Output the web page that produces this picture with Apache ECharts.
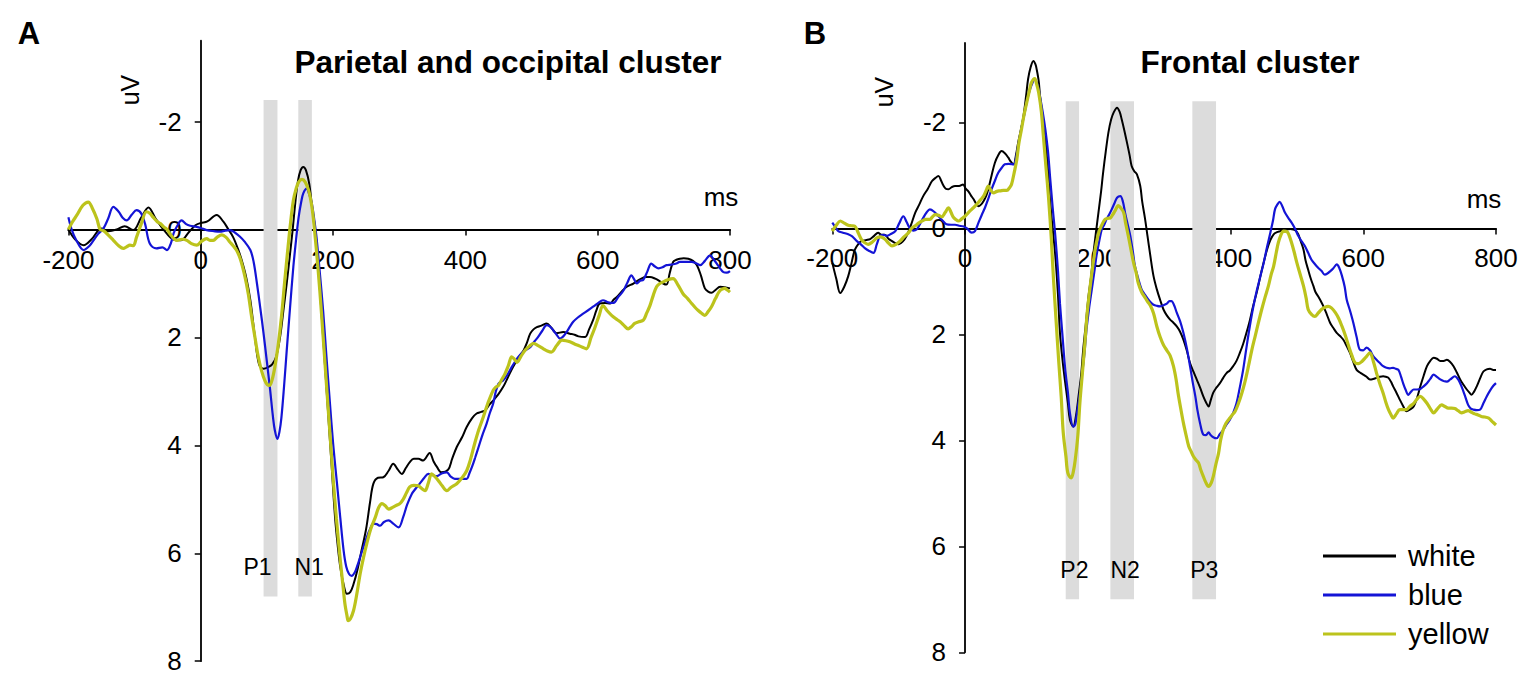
<!DOCTYPE html>
<html>
<head>
<meta charset="utf-8">
<script src="https://cdn.jsdelivr.net/npm/echarts@6.0.0/dist/echarts.min.js"></script>
<style>
html,body{margin:0;padding:0;background:#fff;}
#chart{width:1533px;height:683px;}
</style>
</head>
<body>
<div id="chart"></div>
<script>
// ---------- data ----------
const xTicks = [-200, 0, 200, 400, 600, 800];
const yTicks = [-2, 0, 2, 4, 6, 8];
const seriesNames = ['white', 'blue', 'yellow'];
const panelTitles = ['Parietal and occipital cluster', 'Frontal cluster'];
const panelLetters = ['A', 'B'];

// component windows (ms) and their labels
const A_bandNames = ['P1', 'N1'];
const A_bands = [[95, 116], [147.5, 168]];
const A_bandRange = [-2.4, 6.8];
const B_bandNames = ['P2', 'N2', 'P3'];
const B_bands = [[151.7, 171.8], [219, 254.6], [342.5, 378.2]];
const B_bandRange = [-2.4, 7.0];

// Panel A: parietal and occipital cluster [ms, uV]
const A_white = [[-200,0.0],[-190,0.18],[-177,0.29],[-165,0.18],[-150,-0.02],[-140,0.03],[-127,0.0],[-115,-0.06],[-102,0.01],[-90,-0.22],[-79,-0.41],[-68,-0.2],[-55,0.02],[-42,0.18],[-30,0.2],[-18,0.05],[-8,-0.08],[0,-0.12],[10,-0.15],[24,-0.27],[34,-0.15],[42,0.0],[49,0.14],[56,0.35],[62,0.57],[69,0.9],[75,1.31],[82,2.0],[88,2.49],[95,2.58],[102,2.55],[108,2.5],[114,2.36],[120,1.99],[125,1.5],[130,1.0],[135,0.45],[139,0.0],[143,-0.5],[147,-0.9],[151,-1.1],[155,-1.16],[159,-1.1],[164,-0.85],[168,-0.45],[173,0.0],[178,0.75],[183,1.62],[188,2.55],[193,3.48],[198,4.4],[203,5.33],[207,5.85],[211,6.26],[216,6.58],[221,6.75],[226,6.72],[231,6.57],[237,6.3],[243,5.95],[250,5.55],[256,5.05],[261,4.71],[268,4.6],[276,4.59],[284,4.47],[291,4.34],[298,4.45],[304,4.53],[310,4.42],[316,4.31],[322,4.25],[329,4.25],[336,4.28],[346,4.14],[352,4.3],[357,4.4],[364,4.5],[374,4.45],[380,4.25],[387,4.03],[395,3.85],[402,3.66],[410,3.5],[417,3.41],[424,3.38],[430,3.35],[436,3.25],[442,3.17],[450,3.05],[457,2.92],[462,2.8],[467,2.67],[472,2.55],[478,2.42],[483,2.33],[488,2.24],[493,2.1],[498,1.93],[503,1.85],[508,1.81],[515,1.78],[523,1.74],[530,1.82],[538,1.92],[548,1.9],[558,1.93],[565,1.95],[571,1.98],[581,1.99],[587,1.85],[593,1.68],[598,1.5],[603,1.37],[611,1.36],[619,1.37],[624,1.3],[629,1.25],[636,1.15],[644,1.06],[654,1.0],[660,0.95],[666,0.91],[672,0.88],[679,0.88],[687,0.91],[693,0.95],[699,1.0],[704,1.02],[709,0.8],[714,0.6],[719,0.56],[724,0.54],[730,0.53],[737,0.54],[744,0.58],[750,0.66],[756,0.85],[762,1.09],[767,1.15],[772,1.17],[778,1.12],[785,1.06],[792,1.07],[800,1.09]];
const A_blue = [[-200,-0.23],[-195,0.0],[-188,0.2],[-177,0.38],[-168,0.3],[-162,0.2],[-155,0.08],[-147,-0.02],[-140,-0.2],[-132,-0.42],[-124,-0.33],[-118,-0.22],[-112,-0.17],[-104,-0.28],[-97,-0.36],[-90,-0.3],[-84,-0.1],[-77,0.26],[-67,0.35],[-58,0.33],[-51,0.38],[-45,0.25],[-41,0.07],[-35,-0.08],[-29,-0.17],[-22,-0.1],[-16,-0.07],[-6,-0.05],[0,-0.03],[9,0.01],[20,0.03],[29,0.04],[37,0.02],[44,0.01],[52,0.06],[59,0.13],[66,0.22],[75,0.38],[80,0.6],[85,1.0],[90,1.45],[95,1.93],[100,2.45],[105,2.98],[109,3.45],[112,3.72],[116,3.88],[119,3.75],[122,3.48],[126,2.9],[130,2.24],[135,1.45],[140,0.69],[144,0.2],[148,-0.23],[152,-0.52],[155,-0.67],[160,-0.76],[164,-0.65],[168,-0.48],[172,-0.15],[175,0.14],[180,0.8],[185,1.5],[190,2.35],[195,3.17],[200,3.95],[206,4.71],[211,5.35],[216,5.95],[220,6.25],[224,6.38],[228,6.42],[233,6.35],[237,6.22],[241,6.07],[246,5.88],[251,5.7],[256,5.55],[261,5.45],[266,5.46],[271,5.49],[277,5.42],[284,5.39],[291,5.45],[299,5.52],[306,5.33],[312,5.1],[319,4.9],[325,4.8],[331,4.71],[338,4.6],[344,4.53],[350,4.55],[357,4.57],[364,4.52],[372,4.5],[378,4.58],[384,4.62],[393,4.62],[402,4.62],[406,4.52],[410,4.4],[415,4.22],[420,4.03],[426,3.8],[432,3.6],[437,3.4],[442,3.23],[446,3.0],[450,2.86],[454,2.82],[457,2.8],[463,2.7],[470,2.55],[475,2.45],[480,2.36],[489,2.25],[498,2.18],[504,2.08],[510,1.99],[516,1.88],[523,1.77],[528,1.8],[533,1.87],[538,1.95],[543,2.02],[548,1.98],[553,1.9],[558,1.8],[563,1.71],[570,1.63],[578,1.56],[585,1.5],[593,1.43],[600,1.37],[608,1.31],[616,1.35],[624,1.36],[631,1.25],[639,1.13],[645,0.98],[651,0.85],[655,0.92],[659,1.0],[664,0.95],[669,0.93],[675,0.78],[681,0.63],[686,0.68],[692,0.72],[698,0.7],[704,0.66],[711,0.65],[719,0.63],[724,0.6],[729,0.6],[735,0.6],[742,0.6],[748,0.62],[755,0.66],[762,0.58],[770,0.48],[775,0.55],[780,0.63],[785,0.72],[790,0.79],[795,0.8],[800,0.77]];
const A_yellow = [[-200,0.0],[-194,-0.14],[-187,-0.27],[-178,-0.45],[-170,-0.51],[-164,-0.4],[-157,-0.2],[-152,0.0],[-147,0.02],[-140,0.1],[-132,0.2],[-124,0.3],[-117,0.35],[-112,0.32],[-107,0.29],[-102,0.3],[-97,0.14],[-90,-0.1],[-82,-0.33],[-77,-0.3],[-72,-0.23],[-66,-0.15],[-61,-0.11],[-56,-0.05],[-51,0.0],[-44,0.12],[-36,0.2],[-28,0.18],[-21,0.2],[-14,0.26],[-6,0.29],[1,0.22],[9,0.17],[14,0.2],[19,0.2],[25,0.14],[32,0.1],[38,0.14],[44,0.23],[49,0.3],[54,0.38],[60,0.55],[67,0.88],[72,1.2],[77,1.62],[82,2.0],[87,2.36],[92,2.62],[97,2.8],[101,2.88],[104,2.89],[108,2.78],[112,2.55],[117,2.15],[122,1.62],[127,0.95],[132,0.32],[136,-0.15],[140,-0.54],[144,-0.75],[148,-0.88],[153,-0.93],[158,-0.88],[163,-0.73],[167,-0.5],[170,-0.23],[175,0.4],[180,1.13],[185,1.98],[190,2.86],[195,3.72],[200,4.59],[205,5.35],[211,6.13],[215,6.6],[218,6.94],[221,7.15],[223,7.25],[226,7.22],[231,7.06],[236,6.75],[241,6.38],[246,6.08],[251,5.82],[257,5.55],[264,5.33],[269,5.15],[274,5.08],[279,5.12],[284,5.18],[290,5.15],[296,5.11],[301,5.08],[306,5.0],[311,4.88],[316,4.77],[322,4.74],[329,4.75],[334,4.8],[339,4.84],[344,4.7],[349,4.53],[354,4.58],[359,4.65],[365,4.75],[372,4.84],[378,4.78],[387,4.71],[395,4.6],[402,4.47],[408,4.25],[414,3.97],[420,3.72],[427,3.48],[434,3.22],[442,2.98],[446,2.92],[450,2.89],[455,2.78],[460,2.67],[465,2.52],[470,2.36],[474,2.4],[478,2.46],[484,2.35],[490,2.24],[496,2.17],[503,2.11],[510,2.15],[518,2.21],[524,2.25],[530,2.27],[538,2.15],[546,2.05],[552,2.06],[558,2.08],[565,2.12],[571,2.15],[577,2.18],[583,2.21],[590,2.0],[596,1.81],[602,1.6],[608,1.41],[614,1.5],[621,1.59],[627,1.65],[634,1.71],[640,1.78],[646,1.84],[651,1.8],[656,1.74],[662,1.71],[669,1.68],[674,1.55],[679,1.41],[684,1.22],[689,1.06],[694,1.0],[699,0.97],[706,0.93],[714,0.91],[721,1.02],[729,1.19],[736,1.28],[742,1.37],[747,1.44],[752,1.5],[757,1.55],[762,1.59],[767,1.52],[772,1.43],[778,1.28],[785,1.13],[792,1.09],[796,1.12],[800,1.16]];

// Panel B: frontal cluster [ms, uV]
const B_white = [[-200,0.65],[-194,0.95],[-188,1.22],[-182,1.1],[-176,0.9],[-171,0.65],[-166,0.4],[-160,0.28],[-156,0.24],[-149,0.22],[-143,0.2],[-137,0.14],[-131,0.08],[-126,0.12],[-121,0.12],[-115,0.2],[-110,0.24],[-105,0.28],[-100,0.3],[-94,0.25],[-88,0.14],[-81,-0.08],[-75,-0.3],[-69,-0.45],[-63,-0.61],[-56,-0.75],[-50,-0.89],[-45,-0.95],[-40,-0.99],[-36,-0.9],[-33,-0.82],[-29,-0.75],[-25,-0.74],[-20,-0.78],[-15,-0.8],[-9,-0.8],[-3,-0.83],[1,-0.75],[5,-0.7],[9,-0.62],[13,-0.55],[17,-0.46],[20,-0.42],[24,-0.45],[28,-0.52],[32,-0.62],[35,-0.74],[40,-1.0],[45,-1.24],[50,-1.38],[55,-1.46],[60,-1.42],[65,-1.34],[69,-1.26],[73,-1.21],[77,-1.4],[80,-1.62],[84,-1.85],[88,-2.12],[92,-2.5],[95,-2.82],[99,-3.05],[103,-3.16],[106,-3.1],[108,-3.0],[111,-2.78],[113,-2.5],[117,-2.1],[121,-1.68],[125,-1.1],[128,-0.55],[132,0.0],[136,0.52],[140,1.25],[143,1.97],[147,2.5],[151,2.92],[155,3.3],[158,3.61],[163,3.74],[167,3.55],[171,3.17],[175,2.75],[178,2.29],[182,1.8],[186,1.28],[190,0.9],[193,0.52],[197,0.1],[201,-0.3],[205,-0.7],[208,-1.05],[212,-1.45],[216,-1.81],[220,-2.05],[224,-2.19],[229,-2.28],[233,-2.2],[236,-2.06],[240,-1.85],[244,-1.62],[248,-1.38],[251,-1.18],[255,-1.08],[259,-1.02],[264,-0.8],[267,-0.5],[271,-0.2],[275,0.15],[279,0.5],[284,0.9],[289,1.15],[294,1.35],[299,1.53],[304,1.64],[309,1.72],[314,1.78],[319,1.85],[324,1.95],[329,2.1],[334,2.3],[339,2.54],[344,2.7],[349,2.85],[354,3.0],[359,3.17],[363,3.28],[367,3.36],[370,3.25],[374,3.1],[379,3.0],[384,2.92],[389,2.82],[394,2.73],[399,2.68],[404,2.6],[409,2.5],[414,2.35],[419,2.18],[424,1.97],[429,1.74],[434,1.47],[440,1.18],[445,0.9],[450,0.64],[455,0.4],[460,0.22],[465,0.11],[470,0.07],[475,0.05],[480,0.03],[485,0.02],[490,0.01],[495,0.02],[499,0.05],[502,0.11],[506,0.25],[510,0.4],[513,0.6],[517,0.78],[521,0.95],[525,1.09],[528,1.2],[532,1.28],[536,1.37],[540,1.47],[545,1.62],[550,1.78],[555,1.88],[560,1.97],[565,2.03],[570,2.1],[575,2.22],[580,2.35],[585,2.52],[590,2.67],[595,2.72],[600,2.76],[605,2.8],[610,2.85],[615,2.84],[620,2.82],[625,2.8],[630,2.79],[634,2.8],[638,2.82],[642,2.9],[645,2.98],[650,3.1],[655,3.23],[660,3.35],[665,3.45],[670,3.42],[676,3.36],[681,3.2],[686,2.98],[691,2.78],[696,2.6],[701,2.5],[706,2.44],[711,2.46],[716,2.5],[721,2.5],[726,2.48],[731,2.52],[736,2.6],[741,2.72],[746,2.85],[751,2.95],[756,3.04],[760,3.1],[763,3.14],[767,3.08],[771,2.98],[776,2.83],[781,2.7],[786,2.66],[791,2.65],[796,2.67],[800,2.67]];
const B_blue = [[-200,-0.11],[-195,-0.02],[-191,0.05],[-184,0.08],[-176,0.11],[-170,0.15],[-163,0.24],[-157,0.3],[-151,0.37],[-145,0.42],[-138,0.46],[-133,0.3],[-128,0.14],[-123,0.12],[-118,0.14],[-111,0.1],[-105,0.05],[-99,-0.1],[-93,-0.23],[-88,-0.12],[-83,0.0],[-78,0.04],[-73,0.02],[-68,-0.08],[-63,-0.2],[-58,-0.3],[-53,-0.36],[-47,-0.32],[-40,-0.23],[-34,-0.15],[-28,-0.08],[-21,-0.07],[-15,-0.07],[-9,-0.05],[-3,-0.04],[3,0.0],[10,0.08],[15,0.05],[20,-0.1],[25,-0.25],[30,-0.39],[35,-0.56],[40,-0.74],[45,-0.9],[50,-1.05],[55,-1.14],[60,-1.21],[66,-1.22],[73,-1.21],[77,-1.35],[80,-1.56],[85,-1.9],[90,-2.19],[94,-2.45],[98,-2.63],[102,-2.76],[105,-2.82],[109,-2.72],[113,-2.48],[117,-2.2],[121,-1.87],[125,-1.45],[128,-0.99],[132,-0.4],[136,0.14],[140,0.8],[143,1.41],[147,2.05],[151,2.67],[155,3.1],[158,3.48],[163,3.74],[166,3.7],[168,3.55],[172,3.2],[176,2.79],[180,2.35],[183,1.91],[187,1.5],[191,1.15],[195,0.8],[198,0.52],[202,0.25],[206,0.02],[210,-0.08],[213,-0.17],[217,-0.26],[221,-0.36],[225,-0.47],[229,-0.58],[234,-0.61],[238,-0.5],[241,-0.3],[245,-0.08],[249,0.14],[253,0.45],[256,0.71],[261,0.95],[266,1.15],[271,1.25],[276,1.34],[280,1.4],[284,1.44],[289,1.46],[294,1.47],[299,1.45],[304,1.42],[308,1.37],[311,1.37],[315,1.45],[319,1.59],[324,1.75],[329,1.97],[334,2.25],[339,2.6],[343,2.9],[347,3.17],[350,3.42],[354,3.67],[359,3.89],[363,3.9],[367,3.85],[370,3.9],[374,3.94],[379,3.96],[384,3.88],[389,3.8],[394,3.7],[399,3.61],[404,3.48],[409,3.3],[414,3.0],[419,2.67],[424,2.25],[429,1.85],[434,1.5],[440,1.15],[445,0.9],[450,0.65],[455,0.35],[460,0.08],[464,-0.15],[467,-0.36],[471,-0.46],[474,-0.5],[478,-0.42],[482,-0.3],[487,-0.2],[492,-0.11],[497,0.0],[502,0.14],[507,0.24],[512,0.33],[517,0.46],[522,0.59],[527,0.67],[532,0.74],[537,0.8],[542,0.87],[546,0.85],[550,0.81],[555,0.75],[560,0.68],[564,0.75],[568,0.9],[572,1.1],[575,1.34],[580,1.55],[585,1.78],[590,2.05],[595,2.29],[600,2.3],[605,2.25],[610,2.3],[615,2.41],[620,2.48],[625,2.54],[630,2.6],[635,2.63],[640,2.64],[645,2.63],[649,2.65],[653,2.67],[657,2.8],[660,2.92],[664,3.05],[668,3.14],[672,3.08],[676,3.04],[681,3.04],[686,3.03],[691,2.98],[696,2.92],[701,2.84],[706,2.76],[711,2.8],[716,2.85],[721,2.88],[726,2.89],[731,2.85],[738,2.79],[743,2.85],[748,2.98],[753,3.15],[758,3.33],[762,3.4],[766,3.42],[771,3.43],[776,3.42],[781,3.3],[786,3.17],[791,3.06],[796,2.97],[800,2.92]];
const B_yellow = [[-200,0.05],[-194,-0.06],[-188,-0.14],[-182,-0.1],[-176,-0.06],[-171,-0.05],[-166,-0.04],[-161,0.08],[-156,0.21],[-151,0.27],[-146,0.3],[-140,0.26],[-133,0.18],[-127,0.16],[-121,0.2],[-115,0.28],[-110,0.33],[-104,0.3],[-98,0.24],[-92,0.16],[-85,0.08],[-80,-0.01],[-75,-0.05],[-70,-0.1],[-65,-0.14],[-59,-0.17],[-53,-0.17],[-49,-0.22],[-45,-0.26],[-40,-0.25],[-35,-0.22],[-30,-0.3],[-25,-0.39],[-21,-0.3],[-18,-0.22],[-14,-0.17],[-10,-0.14],[-5,-0.18],[0,-0.23],[5,-0.3],[10,-0.36],[15,-0.42],[20,-0.49],[24,-0.55],[28,-0.61],[32,-0.72],[35,-0.8],[39,-0.72],[43,-0.67],[48,-0.7],[53,-0.71],[58,-0.72],[63,-0.72],[67,-0.77],[70,-0.83],[74,-1.05],[78,-1.3],[81,-1.6],[85,-1.87],[89,-2.15],[93,-2.38],[97,-2.6],[100,-2.75],[105,-2.83],[108,-2.72],[111,-2.56],[115,-2.2],[118,-1.75],[122,-1.15],[126,-0.55],[130,0.2],[133,0.9],[137,1.7],[141,2.48],[145,3.2],[148,3.86],[152,4.3],[155,4.62],[160,4.71],[163,4.6],[166,4.37],[170,3.9],[173,3.3],[177,2.7],[181,2.1],[184,1.6],[188,1.15],[192,0.75],[196,0.4],[200,0.15],[203,0.02],[207,-0.09],[211,-0.17],[215,-0.19],[219,-0.2],[222,-0.25],[226,-0.33],[231,-0.43],[235,-0.38],[239,-0.3],[242,-0.1],[246,0.14],[250,0.4],[254,0.65],[258,0.85],[261,1.03],[266,1.2],[271,1.3],[275,1.38],[279,1.45],[284,1.6],[289,1.85],[294,2.05],[299,2.2],[304,2.3],[309,2.4],[314,2.6],[318,2.85],[321,3.11],[325,3.4],[329,3.67],[333,3.9],[337,4.11],[341,4.22],[344,4.3],[348,4.37],[352,4.43],[355,4.55],[359,4.68],[363,4.8],[367,4.87],[371,4.8],[374,4.68],[378,4.45],[382,4.24],[385,4.0],[389,3.8],[393,3.68],[397,3.61],[402,3.53],[407,3.45],[412,3.3],[417,3.11],[422,2.88],[427,2.6],[432,2.3],[437,2.04],[442,1.78],[447,1.53],[452,1.3],[457,1.09],[461,0.88],[465,0.71],[469,0.45],[472,0.27],[476,0.12],[480,0.05],[485,0.06],[488,0.12],[492,0.27],[496,0.45],[500,0.65],[505,0.87],[510,1.09],[514,1.32],[517,1.53],[522,1.62],[527,1.66],[532,1.6],[537,1.53],[542,1.49],[547,1.47],[552,1.5],[558,1.59],[563,1.7],[568,1.85],[573,2.02],[578,2.22],[583,2.4],[588,2.54],[593,2.55],[598,2.51],[604,2.43],[610,2.35],[615,2.5],[620,2.73],[625,2.93],[630,3.11],[634,3.28],[638,3.42],[642,3.52],[645,3.58],[650,3.5],[655,3.42],[660,3.42],[665,3.42],[670,3.36],[676,3.3],[681,3.22],[686,3.17],[691,3.22],[696,3.3],[701,3.4],[706,3.48],[712,3.4],[718,3.33],[723,3.36],[728,3.39],[733,3.39],[738,3.4],[743,3.44],[748,3.48],[753,3.46],[758,3.44],[763,3.47],[768,3.5],[773,3.52],[778,3.55],[783,3.56],[789,3.58],[794,3.64],[800,3.71]];

// ---------- styling ----------
const FONT = '"Liberation Sans", Arial, sans-serif';
const COLORS = {white: '#000000', blue: '#1414d6', yellow: '#bcc31c'};
const WIDTHS = {white: 2, blue: 2.2, yellow: 3.2};
const BAND_COLOR = '#dcdcdc';
const X_MIN = -200, X_MAX = 800, Y_MIN = -3.5, Y_MAX = 8;

const grids = [
  {left: 68.4, top: 40.7, width: 661.6, height: 620.5},
  {left: 832.3, top: 43, width: 663.7, height: 609.3}
];

// axes cross at the origin: shift each axis from the grid edge to the other axis' zero
function xAxisCfg(i) {
  const g = grids[i];
  const zeroFromBottom = g.height * (Y_MAX - 0) / (Y_MAX - Y_MIN);
  return {
    gridIndex: i, type: 'value', min: X_MIN, max: X_MAX, interval: 200,
    position: 'bottom', offset: -zeroFromBottom,
    axisLine: {show: true, onZero: false, lineStyle: {color: '#000', width: 2}},
    axisTick: {show: true, length: 6, lineStyle: {color: '#000', width: 1.5}},
    axisLabel: {color: '#000', fontSize: 26, fontFamily: FONT, margin: 17},
    splitLine: {show: false}
  };
}
function yAxisCfg(i) {
  const g = grids[i];
  const zeroFromLeft = g.width * (0 - X_MIN) / (X_MAX - X_MIN);
  return {
    gridIndex: i, type: 'value', inverse: true, min: Y_MIN, max: Y_MAX,
    position: 'left', offset: -zeroFromLeft,
    axisLine: {show: true, onZero: false, lineStyle: {color: '#000', width: 1.8}},
    axisTick: {show: true, length: 6, customValues: yTicks, lineStyle: {color: '#000', width: 1.5}},
    axisLabel: {show: true, color: '#000', fontSize: 26, fontFamily: FONT, margin: 19,
                customValues: yTicks},
    splitLine: {show: false}
  };
}

function bandSeries(i, bands, names, range, offsets) {
  return {
    type: 'line', name: 'bands' + i, xAxisIndex: i, yAxisIndex: i, data: [],
    z: 1, silent: true, animation: false,
    markArea: {
      silent: true,
      itemStyle: {color: BAND_COLOR},
      label: {show: true, position: 'insideBottom', distance: 18, color: '#000',
              fontSize: 23, fontFamily: FONT},
      data: bands.map((b, k) => [
        {name: names[k], xAxis: b[0], yAxis: range[0], label: {offset: [offsets[k], 0]}},
        {xAxis: b[1], yAxis: range[1]}
      ])
    }
  };
}

function lineSeries(i, name, data) {
  return {
    type: 'line', name: name, xAxisIndex: i, yAxisIndex: i, data: data,
    symbol: 'none', showSymbol: false, smooth: 0.35, z: 3, animation: false,
    lineStyle: {color: COLORS[name], width: WIDTHS[name]},
    itemStyle: {color: COLORS[name]}
  };
}

const chart = echarts.init(document.getElementById('chart'), null, {renderer: 'svg'});
chart.setOption({
  backgroundColor: '#fff',
  animation: false,
  grid: grids.map(g => Object.assign({outerBoundsMode: 'none'}, g)),
  xAxis: [xAxisCfg(0), xAxisCfg(1)],
  yAxis: [yAxisCfg(0), yAxisCfg(1)],
  legend: {
    data: seriesNames.map(n => ({name: n, icon: 'rect', itemStyle: {color: COLORS[n]}})),
    orient: 'vertical', left: 1318, top: 536,
    itemWidth: 73, itemHeight: 3, itemGap: 9,
    textStyle: {color: '#000', fontSize: 29, fontFamily: FONT, lineHeight: 30, padding: [0, 0, 0, 7]},
    selectedMode: false
  },
  graphic: [
    {type: 'text', x: 29, y: 33, style: {text: panelLetters[0], font: 'bold 31px ' + FONT, fill: '#000', align: 'center', verticalAlign: 'middle'}},
    {type: 'text', x: 815, y: 33, style: {text: panelLetters[1], font: 'bold 31px ' + FONT, fill: '#000', align: 'center', verticalAlign: 'middle'}},
    {type: 'text', x: 508, y: 62, style: {text: panelTitles[0], font: 'bold 31.5px ' + FONT, fill: '#000', align: 'center', verticalAlign: 'middle'}},
    {type: 'text', x: 1250, y: 62, style: {text: panelTitles[1], font: 'bold 31.5px ' + FONT, fill: '#000', align: 'center', verticalAlign: 'middle'}},
    {type: 'text', x: 130, y: 90, rotation: Math.PI / 2, style: {text: 'uV', font: '25px ' + FONT, fill: '#000', align: 'center', verticalAlign: 'middle'}},
    {type: 'text', x: 884, y: 92, rotation: Math.PI / 2, style: {text: 'uV', font: '25px ' + FONT, fill: '#000', align: 'center', verticalAlign: 'middle'}},
    {type: 'text', x: 721, y: 197, style: {text: 'ms', font: '26px ' + FONT, fill: '#000', align: 'center', verticalAlign: 'middle'}},
    {type: 'text', x: 1484, y: 199, style: {text: 'ms', font: '26px ' + FONT, fill: '#000', align: 'center', verticalAlign: 'middle'}}
  ],
  series: [
    bandSeries(0, A_bands, A_bandNames, A_bandRange, [-13, 4]),
    bandSeries(1, B_bands, B_bandNames, B_bandRange, [2, 3, 0]),
    lineSeries(0, 'white', A_white),
    lineSeries(0, 'blue', A_blue),
    lineSeries(0, 'yellow', A_yellow),
    lineSeries(1, 'white', B_white),
    lineSeries(1, 'blue', B_blue),
    lineSeries(1, 'yellow', B_yellow)
  ]
});
</script>
</body>
</html>
